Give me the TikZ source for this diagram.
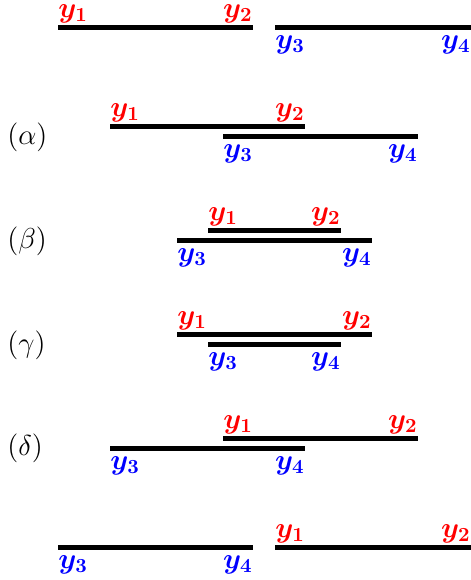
\documentclass[tikz,border=0pt]{standalone}
\usepackage{bm}
\begin{document}
\begin{tikzpicture}[x=0.5pt,y=-0.5pt,
  seg/.style={line width=2.5pt},
  lab/.style={inner sep=0pt,font=\fontsize{14}{16}\selectfont},
  up/.style={lab,red},
  dn/.style={lab,blue},
  case/.style={inner sep=0pt,anchor=west,font=\fontsize{13.5}{16}\selectfont}]
\useasboundingbox (0,0) rectangle (471,580);
% row 0
\coordinate (a1) at (58,27); \coordinate (a2) at (253,27);
\coordinate (a3) at (275,27); \coordinate (a4) at (471,27);
% alpha
\coordinate (b1) at (110,126); \coordinate (b2) at (305,126);
\coordinate (b3) at (223,136); \coordinate (b4) at (418,136);
% beta
\coordinate (c1) at (208,230); \coordinate (c2) at (341,230);
\coordinate (c3) at (177,240); \coordinate (c4) at (372,240);
% gamma
\coordinate (d1) at (177,334); \coordinate (d2) at (372,334);
\coordinate (d3) at (208,344); \coordinate (d4) at (341,344);
% delta
\coordinate (e1) at (223,438); \coordinate (e2) at (418,438);
\coordinate (e3) at (110,448); \coordinate (e4) at (305,448);
% last
\coordinate (f1) at (275,547); \coordinate (f2) at (471,547);
\coordinate (f3) at (58,547); \coordinate (f4) at (253,547);

\foreach \r in {a,b,c,d,e,f}{
  \draw[seg] (\r1) -- (\r2);
  \draw[seg] (\r3) -- (\r4);
  \node[up,anchor=base west] (\r L1) at ([yshift=5pt]\r1) {$\bm{y_1}$};
  \node[up,anchor=base east] (\r L2) at ([yshift=5pt]\r2) {$\bm{y_2}$};
  \node[dn,anchor=base west] (\r L3) at ([yshift=-10.5pt]\r3) {$\bm{y_3}$};
  \node[dn,anchor=base east] (\r L4) at ([yshift=-10.5pt]\r4) {$\bm{y_4}$};
}
\node[case] (ca) at (7,137) {$(\alpha)$};
\node[case] (cb) at (7,241) {$(\beta)$};
\node[case] (cg) at (7,345) {$(\gamma)$};
\node[case] (cd) at (7,448) {$(\delta)$};
\end{tikzpicture}
\end{document}
